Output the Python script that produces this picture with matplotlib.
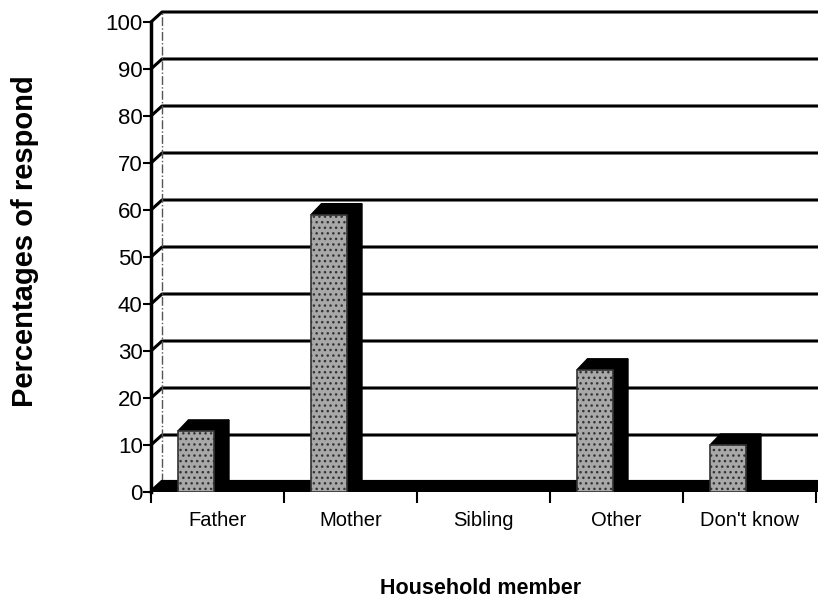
import matplotlib
matplotlib.use('Agg')
import matplotlib.pyplot as plt
from matplotlib.patches import Polygon, Rectangle
from matplotlib.transforms import Bbox

categories = ['Father', 'Mother', 'Sibling', 'Other', "Don't know"]
values = [13, 59, 0, 26, 10]
yticks = list(range(0, 101, 10))

sans = ['Liberation Sans Narrow', 'Liberation Sans', 'DejaVu Sans']
plt.rcParams['font.family'] = sans

W, H = 818, 610
fig = plt.figure(figsize=(W / 100, H / 100), dpi=100)
left_px, right_px, bot_px, top_px = 151, 818, 492, 22
ax = fig.add_axes([left_px / W, 1 - bot_px / H,
                   (right_px - left_px) / W, (bot_px - top_px) / H])
xmax = (right_px - left_px) / 133.0
ax.set_xlim(0, xmax)
ax.set_ylim(0, 100)

# pixel -> data offsets for the fake 3D depth
px_x = xmax / (right_px - left_px)
px_y = 100.0 / (bot_px - top_px)
wdx, wdy = 11 * px_x, 10 * px_y      # walls
bdx, bdy = 15 * px_x, 11 * px_y      # bars

# back wall gridlines + side wall diagonals
for v in yticks[1:]:
    ax.plot([0, wdx, xmax], [v, v + wdy, v + wdy], color='black', lw=2.2,
            solid_capstyle='butt', zorder=1, clip_on=False)
ax.plot([wdx, wdx], [wdy, 100 + wdy], color='#555555', lw=1, ls='-.',
        zorder=1, clip_on=False)

# floor
floor = Polygon([(0, 0), (wdx, wdy), (xmax, wdy), (xmax, 0)], closed=True,
                facecolor='black', edgecolor='black', lw=3, zorder=2)
ax.add_patch(floor)

# bars
bar_off, bar_w = 27 * px_x, 36 * px_x
for i, v in enumerate(values):
    x0 = i + bar_off
    x1 = x0 + bar_w
    side = Polygon([(x1, 0), (x1 + bdx, bdy), (x1 + bdx, v + bdy), (x1, v)],
                   closed=True, facecolor='black', edgecolor='black', lw=1, zorder=3)
    top = Polygon([(x0, v), (x0 + bdx * 0.7, v + bdy), (x1 + bdx, v + bdy), (x1, v)],
                  closed=True, facecolor='black', edgecolor='black', lw=1, zorder=3)
    ax.add_patch(side)
    ax.add_patch(top)
    if v > 0:
        front = Rectangle((x0, 0), bar_w, v, facecolor='#a8a8a8', edgecolor='#333333',
                          hatch='...', lw=1.2, zorder=4)
        ax.add_patch(front)

# axes cosmetics
for s in ['top', 'right', 'bottom']:
    ax.spines[s].set_visible(False)
ax.spines['left'].set_linewidth(2.5)
ax.spines['left'].set_zorder(5)
ax.set_yticks(yticks)
ax.set_yticklabels([str(t) for t in yticks], fontsize=16)
ax.tick_params(axis='y', direction='out', length=6, width=1.5, pad=0)

ax.set_xticks(range(0, 6))
ax.set_xticklabels([])
ax.tick_params(axis='x', which='major', direction='out', length=8, width=1.5)
ax.set_xticks([i + 0.5 for i in range(len(categories))], minor=True)
ax.set_xticklabels(categories, minor=True, fontsize=14.5)
ax.tick_params(axis='x', which='minor', length=0, pad=14)

fig.text(481 / W, 1 - 588 / H, 'Household member', ha='center', va='center',
         fontsize=15.5, fontweight='bold')

ylab = fig.text(25 / W, 1 - 407 / H, 'Percentages of respondents', rotation=90,
                ha='center', va='bottom', fontsize=21, fontweight='bold',
                family=['Liberation Sans', 'DejaVu Sans'])
ylab.set_clip_box(Bbox.from_extents(0, 0, W, H - 76))
ylab.set_clip_on(True)

fig.savefig('out.png', dpi=100)
